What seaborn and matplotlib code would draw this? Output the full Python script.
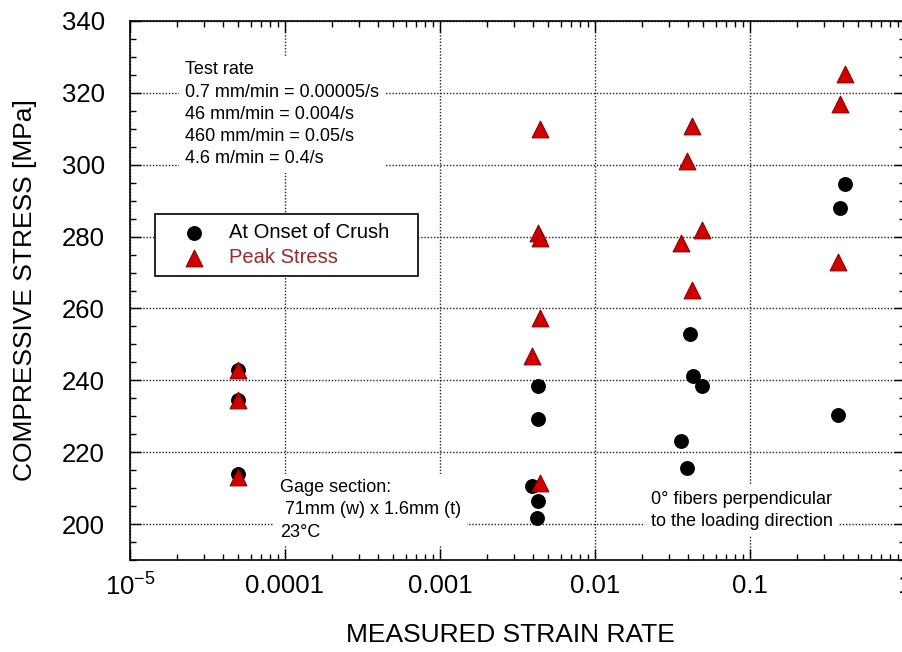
import numpy as np
import pandas as pd
import matplotlib
matplotlib.use("Agg")
import matplotlib.pyplot as plt
import seaborn as sns
from matplotlib import font_manager
from matplotlib.ticker import LogLocator, MultipleLocator, NullFormatter

# data
onset_rate = [5e-5, 5e-5, 5e-5,
              0.0043, 0.0043, 0.0039, 0.0043, 0.0042,
              0.041, 0.043, 0.049, 0.036, 0.039,
              0.41, 0.38, 0.37]
onset_stress = [243.0, 234.5, 214.0,
                238.5, 229.2, 210.6, 206.4, 201.7,
                252.9, 241.2, 238.4, 223.1, 215.6,
                294.7, 288.0, 230.4]

peak_rate = [5e-5, 5e-5, 5e-5,
             0.0044, 0.0043, 0.0044, 0.0044, 0.0039, 0.0044,
             0.042, 0.039, 0.049, 0.036, 0.042,
             0.41, 0.38, 0.37]
peak_stress = [243.0, 234.5, 213.0,
               310.0, 281.0, 279.6, 257.4, 246.8, 211.4,
               310.9, 301.1, 281.9, 278.3, 265.2,
               325.3, 317.0, 272.9]

x_ticks = [1e-5, 1e-4, 1e-3, 1e-2, 1e-1, 1]
x_ticklabels = [r"$\mathregular{10^{-5}}$", "0.0001", "0.001", "0.01", "0.1", "1"]
y_ticks = [200, 220, 240, 260, 280, 300, 320, 340]

rate_note = "Test rate\n0.7 mm/min = 0.00005/s\n46 mm/min = 0.004/s\n460 mm/min = 0.05/s\n4.6 m/min = 0.4/s"
gage_note = "Gage section:\n 71mm (w) x 1.6mm (t)\n23°C"
fiber_note = "0° fibers perpendicular\nto the loading direction"

onset = pd.DataFrame({"rate": onset_rate, "stress": onset_stress})
peak = pd.DataFrame({"rate": peak_rate, "stress": peak_stress})

sns.set_style("ticks")
plt.rcParams["font.family"] = ["Liberation Sans", "DejaVu Sans"]
plt.rcParams["text.color"] = "black"
plt.rcParams["axes.labelcolor"] = "black"
plt.rcParams["xtick.color"] = "black"
plt.rcParams["ytick.color"] = "black"

# axis numbers in the original use a narrow face
names = {f.name for f in font_manager.fontManager.ttflist}
if "Liberation Sans Narrow" in names:
    axis_font, tick_size, label_size = "Liberation Sans Narrow", 22, 24
else:
    axis_font, tick_size, label_size = "Liberation Sans", 18.5, 19

fig = plt.figure(figsize=(9.02, 6.52), dpi=100)
ax = fig.add_axes([130 / 902, 92 / 652, 775 / 902, 539 / 652])

sns.scatterplot(data=onset, x="rate", y="stress", marker="o", s=115,
                color="black", edgecolor="black", linewidth=0, zorder=3,
                label="At Onset of Crush", ax=ax)
sns.scatterplot(data=peak, x="rate", y="stress", marker="^", s=145,
                color="#D40000", edgecolor="#8B0000", linewidth=0.8, zorder=4,
                label="Peak Stress", ax=ax)

ax.set_xscale("log")
ax.set_xlim(1e-5, 1)
ax.set_ylim(190, 340)
ax.set_xticks(x_ticks)
ax.set_xticklabels(x_ticklabels)
ax.xaxis.set_minor_locator(LogLocator(base=10, subs=np.arange(2, 10)))
ax.xaxis.set_minor_formatter(NullFormatter())
ax.set_yticks(y_ticks)
ax.yaxis.set_minor_locator(MultipleLocator(5))

ax.tick_params(which="both", direction="in", top=True, right=True,
               color="black", labelcolor="black", width=1)
ax.tick_params(which="major", length=8)
ax.tick_params(which="minor", length=4)
ax.tick_params(axis="x", which="major", pad=10, labelsize=tick_size,
               labelfontfamily=axis_font)
ax.tick_params(axis="y", which="major", pad=18, labelsize=tick_size,
               labelfontfamily=axis_font)

for sp in ax.spines.values():
    sp.set_color("black")
    sp.set_linewidth(1.2)

ax.set_axisbelow(True)
ax.grid(which="major", color="#222222", linestyle=(0, (1, 1.3)), linewidth=1.0)

ax.set_xlabel("MEASURED STRAIN RATE", fontsize=label_size, family=axis_font,
              va="center", color="black")
ax.xaxis.set_label_coords(0.491, -0.139)
ax.set_ylabel("COMPRESSIVE STRESS [MPa]", fontsize=label_size, family=axis_font,
              va="center", color="black")
ax.yaxis.set_label_coords(-0.136, 0.5)

# legend box
handles, labels = ax.get_legend_handles_labels()
leg = ax.legend(handles, labels, loc="upper left",
                bbox_to_anchor=(155 / 902, 1 - 214 / 652, 263 / 902, 0),
                bbox_transform=fig.transFigure, mode="expand",
                frameon=True, fancybox=False, framealpha=1, edgecolor="black",
                fontsize=14.5, borderpad=0.45, handlelength=3.0,
                handletextpad=0.2, labelspacing=0.3, borderaxespad=0)
leg.get_frame().set_linewidth(1.2)
leg.get_texts()[0].set_color("black")
leg.get_texts()[1].set_color("#A0282A")

box = dict(facecolor="white", edgecolor="none", pad=4)
ax.text(0.071, 0.925, rate_note, transform=ax.transAxes, fontsize=13,
        va="top", ha="left", linespacing=1.4, bbox=box, zorder=5, color="black")
ax.text(0.1935, 0.150, gage_note, transform=ax.transAxes, fontsize=13,
        va="top", ha="left", linespacing=1.4, bbox=box, zorder=5, color="black")
ax.text(0.672, 0.128, fiber_note, transform=ax.transAxes, fontsize=13,
        va="top", ha="left", linespacing=1.4, bbox=box, zorder=5, color="black")

plt.savefig("out.png", dpi=100)
plt.close()
